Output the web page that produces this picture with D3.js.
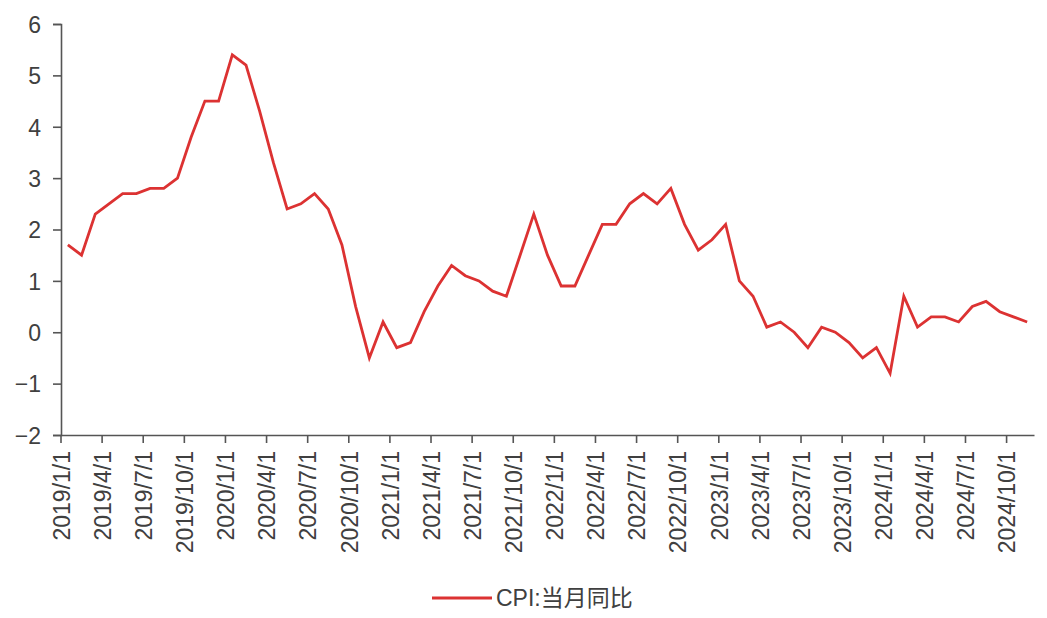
<!DOCTYPE html>
<html>
<head>
<meta charset="utf-8">
<script src="https://cdn.jsdelivr.net/npm/d3@7"></script>
<style>
  html, body { margin: 0; padding: 0; background: #ffffff; }
  svg { display: block; }
  text { font-family: "Liberation Sans", Arial, "Noto Sans CJK SC", sans-serif; }
</style>
</head>
<body>
<svg id="chart" width="1047" height="618"></svg>
<script>
// ---- data ----
const months = [];
for (let yr = 2019; yr <= 2024; yr++) {
  for (let m = 1; m <= 12; m++) {
    if (yr === 2024 && m === 12) break;
    months.push(yr + "/" + m + "/1");
  }
}
const cpi = [
  1.7, 1.5, 2.3, 2.5, 2.7, 2.7, 2.8, 2.8, 3.0, 3.8, 4.5, 4.5,
  5.4, 5.2, 4.3, 3.3, 2.4, 2.5, 2.7, 2.4, 1.7, 0.5, -0.5, 0.2,
  -0.3, -0.2, 0.4, 0.9, 1.3, 1.1, 1.0, 0.8, 0.7, 1.5, 2.3, 1.5,
  0.9, 0.9, 1.5, 2.1, 2.1, 2.5, 2.7, 2.5, 2.8, 2.1, 1.6, 1.8,
  2.1, 1.0, 0.7, 0.1, 0.2, 0.0, -0.3, 0.1, 0.0, -0.2, -0.5, -0.3,
  -0.8, 0.7, 0.1, 0.3, 0.3, 0.2, 0.5, 0.6, 0.4, 0.3, 0.2
];
const yTicks = [-2, -1, 0, 1, 2, 3, 4, 5, 6];
const xTickLabels = months.filter((d, i) => i % 3 === 0);
const seriesName = "CPI:当月同比";

// ---- layout ----
const mLeft = 61, mRight = 1034, mTop = 24, mBottom = 435;
const axisColor = "#555555";
const textColor = "#404040";
const lineColor = "#dc3232";

const svg = d3.select("#chart");

const x = d3.scaleBand().domain(months).range([mLeft, mRight]).paddingInner(0).paddingOuter(0);
const y = d3.scaleLinear().domain([-2, 6]).range([mBottom, mTop]);

// y axis
const yAxis = d3.axisLeft(y).tickValues(yTicks).tickSize(8).tickPadding(12)
  .tickFormat(d => d < 0 ? "\u2212" + Math.abs(d) : String(d));
const gy = svg.append("g").attr("transform", `translate(${mLeft},0)`).call(yAxis);
gy.select(".domain").attr("stroke", axisColor).attr("stroke-width", 1.6);
gy.selectAll(".tick line").attr("stroke", axisColor).attr("stroke-width", 1.6);
gy.selectAll(".tick text").attr("fill", textColor).style("font-size", "23px")
  .attr("dy", "0.36em");

// x axis
const xAxis = d3.axisBottom(x).tickValues(xTickLabels).tickSize(8).tickSizeOuter(0);
const gx = svg.append("g").attr("transform", `translate(0,${mBottom})`).call(xAxis);
gx.select(".domain").attr("stroke", axisColor).attr("stroke-width", 1.6);
gx.selectAll(".tick").attr("transform", d => `translate(${x(d)},0)`);
gx.selectAll(".tick line").attr("stroke", axisColor).attr("stroke-width", 1.6);
gx.selectAll(".tick text")
  .attr("fill", textColor)
  .style("font-size", "23px")
  .attr("text-anchor", "end")
  .attr("transform", "rotate(-90)")
  .attr("x", -16)
  .attr("y", 0)
  .attr("dy", "0.38em");

// line
const line = d3.line()
  .x((d, i) => x(months[i]) + x.bandwidth() / 2)
  .y(d => y(d));
svg.append("path")
  .datum(cpi)
  .attr("fill", "none")
  .attr("stroke", lineColor)
  .attr("stroke-width", 2.8)
  .attr("stroke-linejoin", "miter")
  .attr("d", line);

// legend
const lg = svg.append("g").attr("transform", "translate(432,598)");
lg.append("line").attr("x1", 0).attr("x2", 60).attr("y1", 0).attr("y2", 0)
  .attr("stroke", lineColor).attr("stroke-width", 2.8);
lg.append("text").attr("x", 64).attr("y", 0).attr("dy", "0.36em")
  .attr("fill", textColor).style("font-size", "23px").text(seriesName);
</script>
</body>
</html>
